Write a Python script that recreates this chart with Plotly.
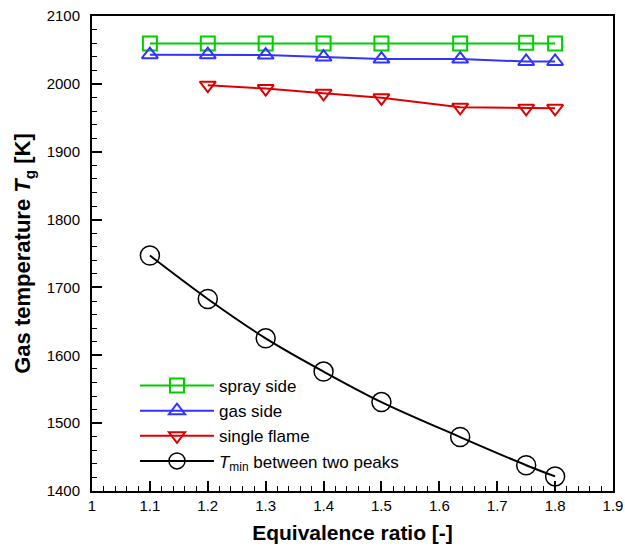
import plotly.graph_objects as go

phi = [1.1, 1.2, 1.3, 1.4, 1.5, 1.636, 1.75, 1.8]
phi_single = [1.2, 1.3, 1.4, 1.5, 1.636, 1.75, 1.8]
spray_side = [2059.5, 2059.5, 2059.5, 2059.5, 2059.5, 2059.5, 2060.5, 2059.5]
gas_side = [2043, 2043, 2042.5, 2039.5, 2036.5, 2036.5, 2033, 2033]
single_flame = [1998, 1993, 1986, 1979.5, 1965.5, 1964, 1964]
t_min = [1747, 1683, 1625, 1576, 1531, 1479.5, 1438, 1421.5]

FONT = "Liberation Sans, Arial, Helvetica"

fig = go.Figure()
fig.add_trace(go.Scatter(x=phi, y=spray_side, mode="lines+markers", name="spray side",
                         line=dict(color="#00CC00", width=2),
                         marker=dict(symbol="square-open", size=14, color="#00CC00", line=dict(width=2))))
fig.add_trace(go.Scatter(x=phi, y=gas_side, mode="lines+markers", name="gas side",
                         line=dict(color="#3333FF", width=2),
                         marker=dict(symbol="triangle-up-open", size=14, color="#3333FF", line=dict(width=2))))
fig.add_trace(go.Scatter(x=phi_single, y=single_flame, mode="lines+markers", name="single flame",
                         line=dict(color="#DD0000", width=2),
                         marker=dict(symbol="triangle-down-open", size=14, color="#DD0000", line=dict(width=2))))
fig.add_trace(go.Scatter(x=phi, y=t_min, mode="lines+markers", name="<i>T</i><sub>min</sub> between two peaks",
                         line=dict(color="black", width=2, shape="spline"),
                         marker=dict(symbol="circle-open", size=19, color="black", line=dict(width=1.5))))

axis_common = dict(showline=True, linecolor="black", linewidth=2, mirror=True,
                   ticks="inside", ticklen=10, tickwidth=2, tickcolor="black",
                   showgrid=False, zeroline=False, automargin=False,
                   tickfont=dict(family=FONT, size=15, color="black"))

fig.update_xaxes(range=[1, 1.9], dtick=0.1, tick0=1,
                 minor=dict(ticks="inside", ticklen=5, tickwidth=1, dtick=0.02, tickcolor="black"),
                 title=dict(text="<b>Equivalence ratio [-]</b>",
                            font=dict(family=FONT, size=21, color="black"), standoff=12),
                 **axis_common)
fig.update_yaxes(range=[1400, 2100], dtick=100, tick0=1400,
                 minor=dict(ticks="inside", ticklen=5, tickwidth=1, dtick=20, tickcolor="black"),
                 title=dict(text="<b>Gas temperature <i>T</i><sub>g</sub> [K]</b>",
                            font=dict(family=FONT, size=22, color="black"), standoff=10),
                 ticklabelstandoff=7,
                 **axis_common)

fig.update_layout(width=625, height=547, margin=dict(l=92, r=12, t=16, b=56),
                  plot_bgcolor="white", paper_bgcolor="white",
                  legend=dict(x=0.0825, y=0.142, xanchor="left", yanchor="middle",
                              bgcolor="rgba(0,0,0,0)",
                              font=dict(family=FONT, size=17, color="black"),
                              itemwidth=74, tracegroupgap=0))

fig.write_html("out.html")
